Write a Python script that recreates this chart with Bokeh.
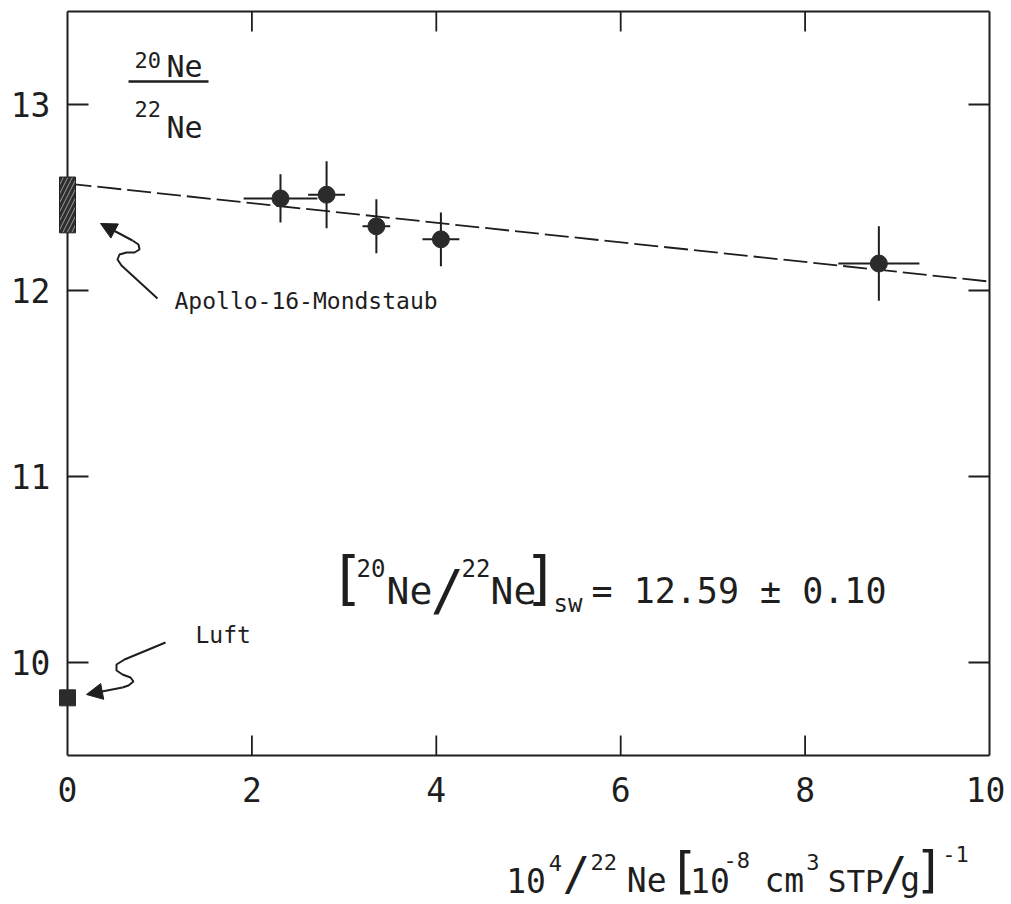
from bokeh.plotting import figure
from bokeh.models import Range1d, Label, Arrow, NormalHead, FixedTicker
from bokeh.layouts import column
from bokeh.embed import file_html
from bokeh.resources import INLINE
import numpy as np

# ---------------- data ----------------
x_vals = [2.31, 2.81, 3.35, 4.05, 8.80]
y_vals = [12.495, 12.515, 12.345, 12.275, 12.145]
x_err = [0.40, 0.20, 0.15, 0.20, 0.44]
y_err = [0.13, 0.18, 0.145, 0.145, 0.20]

fit_x = [0.0, 10.0]
fit_y = [12.575, 12.048]

apollo_x = [0.0]
apollo_y = [12.46]
apollo_h = [0.30]

luft_x = [0.0]
luft_y = [9.81]

x_ticks = [0, 2, 4, 6, 8, 10]
y_ticks = [10, 11, 12, 13]
x_lim = (0.0, 10.0)
y_lim = (9.5, 13.5)

# ---------------- layout helpers ----------------
FONT = "DejaVu Sans Mono"
INK = "#1e1e1e"
W = 1005
H_MAIN = 815
H_LABEL = 87
PPX = 92.2   # pixels per x unit
PPY = 186.0  # pixels per y unit
ORG_X = 67   # page px of x=0
TOP_Y = 11   # page px of y=13.5
F_LEFT, F_RIGHT, F_TOP, F_BOTTOM = 56, 991, 9, 757


def X(px):
    return (px - ORG_X) / PPX


def Y(py):
    return y_lim[1] - (py - TOP_Y) / PPY


p = figure(width=W, height=H_MAIN,
           x_range=Range1d(X(F_LEFT), X(F_RIGHT)), y_range=Range1d(Y(F_BOTTOM), Y(F_TOP)),
           output_backend="svg", toolbar_location=None, title=None,
           min_border_left=F_LEFT, min_border_right=W - F_RIGHT,
           min_border_top=F_TOP, min_border_bottom=H_MAIN - F_BOTTOM)
p.outline_line_color = None
p.grid.visible = False
p.background_fill_color = "white"
p.border_fill_color = "white"

for ax in p.axis:
    ax.axis_line_color = None
    ax.major_tick_line_color = None
    ax.minor_tick_line_color = None
    ax.major_tick_in = 0
    ax.major_tick_out = 0
    ax.minor_tick_in = 0
    ax.minor_tick_out = 0
    ax.major_label_text_font = FONT
    ax.major_label_text_font_size = "33px"
    ax.major_label_text_color = INK
p.xaxis.ticker = FixedTicker(ticks=x_ticks)
p.yaxis.ticker = FixedTicker(ticks=y_ticks)
p.xaxis.major_label_standoff = 19
p.yaxis.major_label_standoff = 6

# frame box
p.segment(x0=[x_lim[0], x_lim[1], x_lim[0], x_lim[0]],
          y0=[y_lim[0], y_lim[0], y_lim[0], y_lim[1]],
          x1=[x_lim[0], x_lim[1], x_lim[1], x_lim[1]],
          y1=[y_lim[1], y_lim[1], y_lim[0], y_lim[1]],
          line_color=INK, line_width=2)

# inward ticks
tlx = 21 / PPX
tly = 20 / PPY
yt = np.array(y_ticks, dtype=float)
p.segment(x0=np.full(len(yt), x_lim[0]), x1=np.full(len(yt), x_lim[0] + tlx), y0=yt, y1=yt,
          line_color=INK, line_width=1.8)
p.segment(x0=np.full(len(yt), x_lim[1]), x1=np.full(len(yt), x_lim[1] - tlx), y0=yt, y1=yt,
          line_color=INK, line_width=1.8)
xt = np.array([t for t in x_ticks if x_lim[0] < t < x_lim[1]], dtype=float)
p.segment(x0=xt, x1=xt, y0=np.full(len(xt), y_lim[0]), y1=np.full(len(xt), y_lim[0] + tly),
          line_color=INK, line_width=1.8)
p.segment(x0=xt, x1=xt, y0=np.full(len(xt), y_lim[1]), y1=np.full(len(xt), y_lim[1] - tly),
          line_color=INK, line_width=1.8)

# fit line
p.line(fit_x, fit_y, line_color=INK, line_width=1.8, line_dash="24 6")

# error bars
xv = np.array(x_vals); yv = np.array(y_vals)
xe = np.array(x_err); ye = np.array(y_err)
p.segment(x0=xv - xe, x1=xv + xe, y0=yv, y1=yv, line_color=INK, line_width=2)
p.segment(x0=xv, x1=xv, y0=yv - ye, y1=yv + ye, line_color=INK, line_width=2)
p.scatter(x_vals, y_vals, size=17, marker="circle", fill_color="#2b2b2b", line_color="#2b2b2b")

# Apollo-16 box
p.rect(x=apollo_x, y=apollo_y, width=16, width_units="screen", height=apollo_h,
       fill_color="#2e2e2e", line_color="#222222", line_width=1,
       hatch_pattern="/", hatch_color="#9a9a9a", hatch_scale=9, hatch_weight=1)

# Luft square
p.scatter(luft_x, luft_y, marker="square", size=16, fill_color="#2b2b2b", line_color="#2b2b2b")

# arrows (annotation paths in page px)
apollo_path = [(157, 298), (121, 265), (117, 259), (119, 254), (126, 252), (134, 252),
               (139, 249), (138, 244), (132, 240)]
apollo_tip = (100, 223)
luft_path = [(165, 642), (124, 659), (116, 664), (116, 670), (122, 674), (130, 677),
             (133, 681), (128, 685), (122, 687)]
luft_tip = (86, 694)
for path, tip in ((apollo_path, apollo_tip), (luft_path, luft_tip)):
    p.line([X(a) for a, b in path], [Y(b) for a, b in path], line_color=INK, line_width=2)
    p.add_layout(Arrow(end=NormalHead(size=16, fill_color=INK, line_color=INK, line_width=1),
                       x_start=X(path[-1][0]), y_start=Y(path[-1][1]),
                       x_end=X(tip[0]), y_end=Y(tip[1]),
                       line_color=INK, line_width=2))

# fraction bar of the y label
p.segment(x0=[X(128)], x1=[X(208)], y0=[Y(81)], y1=[Y(81)], line_color=INK, line_width=2.5)

# text pieces inside the plot: (text, page x, page y of middle, size, align)
texts = [
    ("20", 134, 59, 22, "left"),
    ("Ne", 166, 66, 30, "left"),
    ("22", 134, 108, 22, "left"),
    ("Ne", 166, 127, 30, "left"),
    ("Apollo-16-Mondstaub", 174, 300, 23, "left"),
    ("Luft", 195, 634, 23, "left"),
    ("[", 329, 578, 58, "left"),
    ("20", 356, 567, 24, "left"),
    ("Ne", 386, 590, 38, "left"),
    ("/", 430, 589, 56, "left"),
    ("22", 461, 567, 24, "left"),
    ("Ne", 490, 590, 38, "left"),
    ("]", 523, 578, 58, "left"),
    ("sw", 553, 603, 24, "left"),
    ("= 12.59 ± 0.10", 591, 590, 35, "left"),
]
for t, px, py, s, al in texts:
    p.add_layout(Label(x=X(px), y=Y(py), text=t, text_font=FONT, text_font_size=f"{s}px",
                       text_color=INK, text_align=al, text_baseline="middle"))

# x-axis label strip (coordinates = page pixels)
q = figure(width=W, height=H_LABEL, x_range=Range1d(0, W),
           y_range=Range1d(H_MAIN + H_LABEL, H_MAIN),
           output_backend="svg", toolbar_location=None, title=None,
           x_axis_type=None, y_axis_type=None, min_border=0)
q.outline_line_color = None
q.grid.visible = False
q.background_fill_color = "white"
q.border_fill_color = "white"

xlabel = [
    ("10", 526, 880, 33, "right"),
    ("4", 529, 862, 22, "left"),
    ("/", 544, 873, 46, "left"),
    ("22", 574, 861, 22, "left"),
    ("Ne", 613, 880, 33, "left"),
    ("[", 658, 870, 50, "left"),
    ("10", 681, 880, 33, "left"),
    ("-8", 717, 859, 22, "left"),
    ("cm", 761, 880, 33, "left"),
    ("3", 806, 861, 22, "left"),
    ("STP", 829, 880, 31, "left"),
    ("/", 885, 873, 46, "left"),
    ("g", 907, 879, 33, "left"),
    ("]", 922, 869, 50, "left"),
    ("-1", 952, 853, 22, "left"),
]
for t, px, py, s, al in xlabel:
    q.add_layout(Label(x=px, y=py, text=t, text_font=FONT, text_font_size=f"{s}px",
                       text_color=INK, text_align=al, text_baseline="middle"))

layout = column(p, q, spacing=0)
open("out.html", "w").write(file_html(layout, INLINE))
